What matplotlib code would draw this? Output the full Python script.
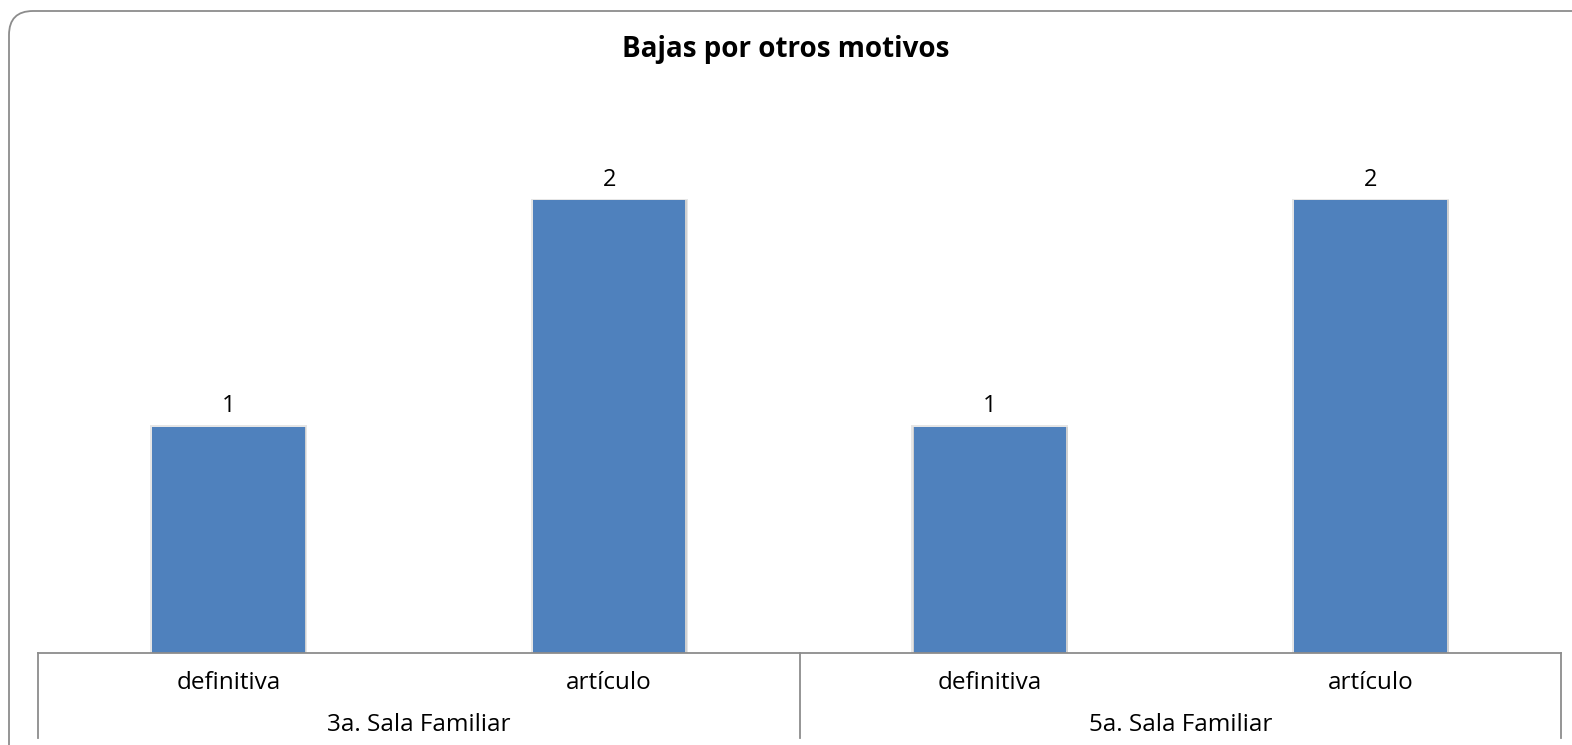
import matplotlib
matplotlib.use("Agg")
import matplotlib.pyplot as plt
from matplotlib.patches import FancyBboxPatch
from matplotlib.lines import Line2D
import matplotlib.transforms as mtransforms

title = "Bajas por otros motivos"
groups = ["3a. Sala Familiar", "5a. Sala Familiar"]
subcats = ["definitiva", "artículo", "definitiva", "artículo"]
values = [1, 2, 1, 2]

W, H = 1572, 745
fig = plt.figure(figsize=(W / 100, H / 100), dpi=100)
plt.rcParams['font.family'] = ['Open Sans', 'DejaVu Sans']

# rounded outer border in pixel coordinates (clipped on right/bottom)
border = FancyBboxPatch((9, -40), W + 40, H - 11 + 40,
                        boxstyle="round,pad=0,rounding_size=24",
                        transform=mtransforms.IdentityTransform(), fill=False,
                        edgecolor="#8c8c8c", linewidth=1.3)
fig.patches.append(border)

left_px, right_px, base_px = 38, 1561, 653
unit_px = 226.5
ymax = 2.5
top_px = base_px - ymax * unit_px
ax = fig.add_axes([left_px / W, 1 - base_px / H, (right_px - left_px) / W,
                   (base_px - top_px) / H])
ax.set_xlim(-0.5, len(values) - 0.5)
ax.set_ylim(0, ymax)
for s in ax.spines.values():
    s.set_visible(False)
ax.set_xticks([])
ax.set_yticks([])

x = list(range(len(values)))
# soft shadow around bars
ax.bar(x, [v + 0.006 for v in values], width=0.412, color="#e6e6e6", zorder=1)
ax.bar([xi + 0.002 for xi in x], values, width=0.406, color="#d0d0d0", zorder=1.5)
ax.bar(x, values, width=0.4, color="#4f81bd", zorder=2)
for xi, v in zip(x, values):
    ax.text(xi, v + 0.09, str(v), ha="center", va="center", fontsize=17,
            color="black")

trans = mtransforms.blended_transform_factory(ax.transData, ax.transAxes)
axh = base_px - top_px
def ay(px):
    return -(px - base_px) / axh

gray = "#8c8c8c"
ax.add_line(Line2D([-0.5, len(values) - 0.5], [0, 0], transform=trans,
                   color=gray, lw=1.3, clip_on=False, zorder=3))
for xe in [-0.5, 1.5, 3.5]:
    ax.add_line(Line2D([xe, xe], [0, ay(738)], transform=trans, color=gray,
                       lw=1.3, clip_on=False))
for xi, lab in zip(x, subcats):
    ax.text(xi, ay(683), lab, transform=trans, ha="center", va="center",
            fontsize=17.5, clip_on=False)
for gi, g in enumerate(groups):
    ax.text(gi * 2 + 0.5, ay(725), g, transform=trans, ha="center",
            va="center", fontsize=17.5, clip_on=False)

fig.text(0.5, 1 - 49 / H, title, ha="center", va="center", fontsize=20,
         fontweight="bold")

fig.savefig("out.png", dpi=100)
